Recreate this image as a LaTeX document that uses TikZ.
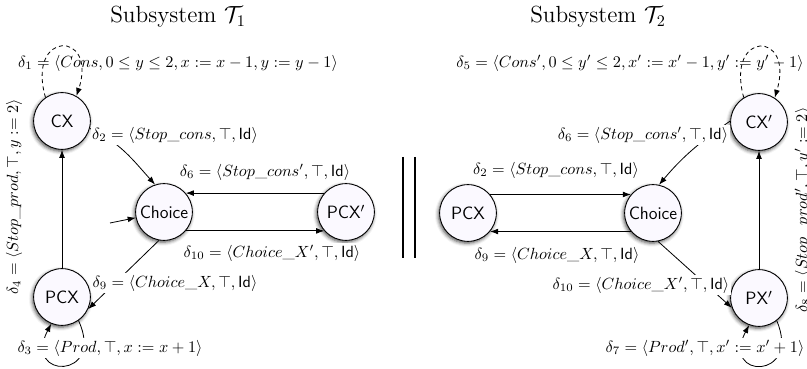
\documentclass[tikz,border=0pt]{standalone}
\usepackage{amsmath,amssymb}
\usetikzlibrary{arrows.meta,shadows.blur}
\definecolor{statefill}{rgb}{0.985,0.978,1}
\tikzset{
  stnode/.style={circle,draw,line width=0.55pt,fill=statefill,minimum size=35pt,inner sep=0pt,
    font=\sffamily\fontsize{11}{13}\selectfont,
    blur shadow={shadow xshift=-0.7pt,shadow yshift=-1.1pt,shadow blur radius=2.2pt,shadow opacity=70}},
  lab/.style={inner sep=1pt,font=\normalsize},
  labw/.style={lab,fill=white},
  arr/.style={-{Latex[length=5pt,width=3.6pt]},line width=0.5pt},
  dloop/.style={arr,dash pattern=on 2.5pt off 2pt},
  ttl/.style={font=\Large},
  sep/.style={line width=1.3pt}
}
\begin{document}
\begin{tikzpicture}[x=0.617pt,y=-0.617pt]
\useasboundingbox (0,0) rectangle (807,369);
\clip (0,0) rectangle (807,369);
% titles
\node[ttl] (t1) at (178,17) {Subsystem $\mathcal{T}_1$};
\node[ttl] (t2) at (598,17) {Subsystem $\mathcal{T}_2$};
% ---------- left subsystem ----------
\node[stnode] (CX) at (62,121) {CX};
\node[stnode] (PCX) at (62,297) {PCX};
\node[stnode] (Ch) at (164,212) {Choice};
\node[stnode] (PCXp) at (346,212) {PCX$'$};
\coordinate (init) at (110,223);
\draw[arr] (PCX) -- (CX);
\draw[arr] (CX.-15) to[out=-25,in=132] (Ch.108);
\draw[arr] (PCXp.139) -- (Ch.41);
\draw[arr] (Ch.-41) -- (PCXp.-139);
\draw[arr] (Ch.-100) -- (PCX.-25);
\draw[arr] (init) -- (Ch);
\draw[dloop] (CX.125) .. controls (26,30) and (98,30) .. (CX.60);
\draw[arr] (PCX.-55) .. controls (106,380) and (22,380) .. (PCX.-112);
\node[lab] (d1) at (178,63) {$\delta_1 = \langle Cons, 0 \leq y \leq 2, x := x-1, y := y-1\rangle$};
\node[labw] (d2) at (175,135) {$\delta_2 = \langle Stop\_cons, \top, \mathsf{Id}\rangle$};
\node[lab] (d6) at (265,172) {$\delta_6 = \langle Stop\_cons', \top, \mathsf{Id}\rangle$};
\node[labw] (d10) at (272,253) {$\delta_{10} = \langle Choice\_X', \top, \mathsf{Id}\rangle$};
\node[labw] (d9) at (175,283) {$\delta_9 = \langle Choice\_X, \top, \mathsf{Id}\rangle$};
\node[labw] (d3) at (110,348) {$\delta_3 = \langle Prod, \top, x := x+1\rangle$};
\node[lab,rotate=90] (d4) at (14,197) {$\delta_4 = \langle Stop\_prod, \top, y := 2\rangle$};
% separator
\coordinate (s1a) at (403,157); \coordinate (s1b) at (403,258);
\coordinate (s2a) at (415,157); \coordinate (s2b) at (415,258);
\draw[sep] (s1a) -- (s1b);
\draw[sep] (s2a) -- (s2b);
% ---------- right subsystem ----------
\node[stnode] (CXp) at (759,122) {CX$'$};
\node[stnode] (PXp) at (759,298) {PX$'$};
\node[stnode] (ChR) at (653,213) {Choice};
\node[stnode] (PCXR) at (468,213) {PCX};
\draw[arr] (PXp) -- (CXp);
\draw[arr] (CXp.178) to[out=215,in=50] (ChR.78);
\draw[arr] (PCXR.40) -- (ChR.140);
\draw[arr] (ChR.-140) -- (PCXR.-40);
\draw[arr] (ChR.-80) -- (PXp.200);
\draw[dloop] (CXp.122) .. controls (725,30) and (795,30) .. (CXp.57);
\draw[arr] (PXp.-52) .. controls (802,380) and (720,380) .. (PXp.-110);
\node[lab] (d5) at (630,63) {$\delta_5 = \langle Cons', 0 \leq y' \leq 2, x' := x'-1, y' := y'-1\rangle$};
\node[labw] (d6r) at (643,135) {$\delta_6 = \langle Stop\_cons', \top, \mathsf{Id}\rangle$};
\node[lab] (d2r) at (556,170) {$\delta_2 = \langle Stop\_cons, \top, \mathsf{Id}\rangle$};
\node[lab] (d9r) at (557,255) {$\delta_9 = \langle Choice\_X, \top, \mathsf{Id}\rangle$};
\node[labw] (d10r) at (641,285) {$\delta_{10} = \langle Choice\_X', \top, \mathsf{Id}\rangle$};
\node[labw] (d7) at (705,348) {$\delta_7 = \langle Prod', \top, x' := x'+1\rangle$};
\node[lab,rotate=90] (d8) at (803,210) {$\delta_8 = \langle Stop\_prod', \top, y' := 2\rangle$};
\end{tikzpicture}
\end{document}
